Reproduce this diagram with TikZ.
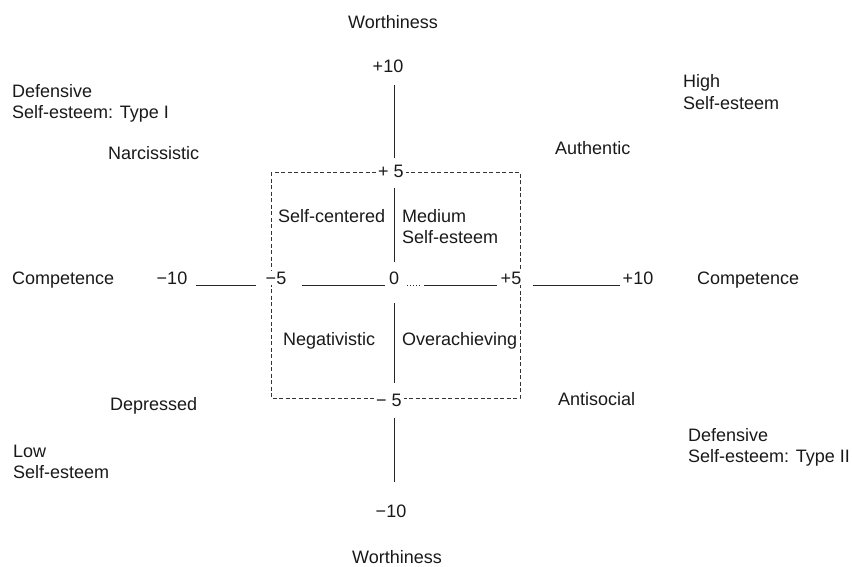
\documentclass[tikz,border=0pt]{standalone}
\usepackage{fontspec}
\setmainfont{Liberation Sans}
\begin{document}
\begin{tikzpicture}[x=1pt,y=-1pt,
  lbl/.style={inner sep=0pt,font=\fontsize{18}{21}\selectfont,text=black!90},
  lw/.style={lbl,anchor=base west},
  lc/.style={lbl,anchor=base},
  boxlbl/.style={lc,fill=white,inner xsep=2pt,inner ysep=1pt},
  axis/.style={line width=1pt,draw=black!85},
  dashbox/.style={line width=0.9pt,draw=black!80,dash pattern=on 4pt off 2.5pt}]
\useasboundingbox (0,0) rectangle (853,566);
% dashed box
\coordinate (bxa) at (271,172);
\coordinate (bxb) at (520,398);
\draw[dashbox] (bxa) rectangle (bxb);
% axis tick labels
\node[lc] (wtop) at (393,28) {Worthiness};
\node[lc] (vp10) at (388,72) {+10};
\node[boxlbl] (vp5) at (391,177) {+ 5};
\node[boxlbl] (vm5) at (389,406) {− 5};
\node[lc] (vm10) at (391,517) {−10};
\node[lc] (wbot) at (397,563) {Worthiness};
\node[lw] (lcomp) at (12,284) {Competence};
\node[lc] (hm10) at (172,284) {−10};
\node[boxlbl] (hm5) at (276,284) {−5};
\node[lc] (zero) at (394,284) {0};
\node[boxlbl] (hp5) at (511,284) {+5};
\node[lc] (hp10) at (638,284) {+10};
\node[lw] (rcomp) at (697,284) {Competence};
% axis segments
\coordinate (v1a) at (394,85);  \coordinate (v1b) at (394,158);
\coordinate (v2a) at (394,188); \coordinate (v2b) at (394,262);
\coordinate (v3a) at (394,303); \coordinate (v3b) at (394,383);
\coordinate (v4a) at (394,418); \coordinate (v4b) at (394,482);
\coordinate (h1a) at (196,285); \coordinate (h1b) at (256,285);
\coordinate (h2a) at (302,285); \coordinate (h2b) at (385,285);
\coordinate (h3a) at (407,285); \coordinate (h3b) at (421,285);
\coordinate (h4a) at (424,285); \coordinate (h4b) at (497,285);
\coordinate (h5a) at (533,285); \coordinate (h5b) at (620,285);
\draw[axis] (v1a) -- (v1b);
\draw[axis] (v2a) -- (v2b);
\draw[axis] (v3a) -- (v3b);
\draw[axis] (v4a) -- (v4b);
\draw[axis] (h1a) -- (h1b);
\draw[axis] (h2a) -- (h2b);
\draw[axis,dotted] (h3a) -- (h3b);
\draw[axis] (h4a) -- (h4b);
\draw[axis] (h5a) -- (h5b);
% outer labels
\node[lw] (dt1a) at (12,97) {Defensive};
\node[lw] (dt1b) at (12,118) {Self-esteem: Type I};
\node[lw] (narc) at (108,159) {Narcissistic};
\node[lw] (higha) at (683,87) {High};
\node[lw] (highb) at (683,109) {Self-esteem};
\node[lw] (auth) at (555,154) {Authentic};
\node[lw] (depr) at (110,410) {Depressed};
\node[lw] (lowa) at (13,457) {Low};
\node[lw] (lowb) at (13,478) {Self-esteem};
\node[lw] (anti) at (558,405) {Antisocial};
\node[lw] (dt2a) at (688,441) {Defensive};
\node[lw] (dt2b) at (688,462) {Self-esteem: Type II};
% inner labels
\node[lw] (selfc) at (278,222) {Self-centered};
\node[lw] (meda) at (402,222) {Medium};
\node[lw] (medb) at (402,243) {Self-esteem};
\node[lw] (nega) at (283,345) {Negativistic};
\node[lw] (over) at (402,345) {Overachieving};
\end{tikzpicture}
\end{document}
